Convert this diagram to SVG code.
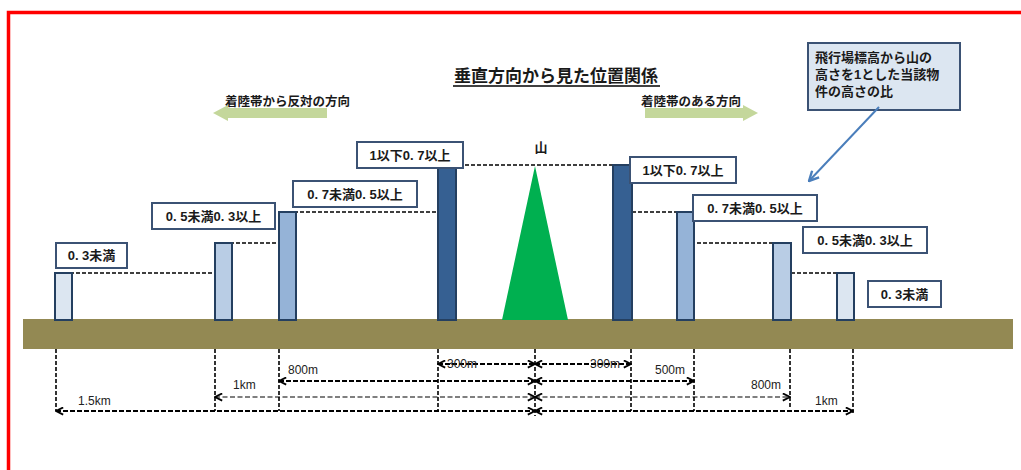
<svg xmlns="http://www.w3.org/2000/svg" width="1021" height="470" viewBox="0 0 1021 470">
<style>
.jp{font-family:"Liberation Sans","Noto Sans CJK JP",sans-serif;font-weight:bold;fill:#1a1a1a}
.lbl{font-size:13px;text-anchor:middle}
.box{fill:#ffffff;stroke:#3b5274;stroke-width:2}
.bar{stroke:#243f60;stroke-width:2}
.hd{stroke:#000;stroke-width:1.6;stroke-dasharray:4 2;fill:none}
.dim{stroke:#000;stroke-width:2;stroke-dasharray:5 2;fill:none}
.dimt{stroke:#000;stroke-width:1.2;stroke-dasharray:5 2.5;fill:none}
.vd{stroke:#000;stroke-width:1.6;stroke-dasharray:4 2;fill:none}
.dl{font-family:"Liberation Sans",sans-serif;font-size:12px;fill:#222}
</style>
<defs>
<marker id="ah" viewBox="0 0 10 10" refX="9" refY="5" markerWidth="9" markerHeight="9" markerUnits="userSpaceOnUse" orient="auto-start-reverse">
<path d="M1,1 L9,5 L1,9" fill="none" stroke="#000" stroke-width="2"/>
</marker>
<marker id="bh" viewBox="0 0 10 10" refX="9" refY="5" markerWidth="12" markerHeight="12" markerUnits="userSpaceOnUse" orient="auto">
<path d="M1,1 L9,5 L1,9" fill="none" stroke="#4a7ebb" stroke-width="2"/>
</marker>
</defs>
<rect x="0" y="0" width="1021" height="470" fill="#ffffff"/>
<rect x="8.5" y="12.5" width="1100" height="600" fill="none" stroke="#ff0000" stroke-width="3.5"/>

<g id="title">
<text class="jp" x="556" y="82" font-size="17" text-anchor="middle">垂直方向から見た位置関係</text>
<line x1="453" y1="86" x2="660" y2="86" stroke="#000" stroke-width="1.5"/>
</g>

<g id="dir-left">
<polygon points="213,113 228,105 228,108 327,108 327,118 228,118 228,121" fill="#c4d79b"/>
<text class="jp" x="225" y="106" font-size="12.5">着陸帯から反対の方向</text>
</g>
<g id="dir-right">
<polygon points="645,108 743,108 743,105 758,113 743,121 743,118 645,118" fill="#c4d79b"/>
<text class="jp" x="641" y="106" font-size="12.5">着陸帯のある方向</text>
</g>

<g id="callout">
<rect x="808" y="43" width="152" height="67" fill="#dce6f1" stroke="#3b5274" stroke-width="2"/>
<text class="jp" x="815" y="62" font-size="13">飛行場標高から山の</text>
<text class="jp" x="815" y="79" font-size="13">高さを1とした当該物</text>
<text class="jp" x="815" y="96" font-size="13">件の高さの比</text>
</g>

<g id="ground">
<rect x="23" y="319" width="990" height="30" fill="#938953"/>
</g>

<g id="mountain">
<polygon points="535,166 502,320 568,320" fill="#00b050"/>
<text class="jp" x="541" y="152" font-size="13" text-anchor="middle">山</text>
</g>

<g id="connectors">
<line class="hd" x1="64" y1="273" x2="215" y2="273"/>
<line class="hd" x1="224" y1="243" x2="279" y2="243"/>
<line class="hd" x1="288" y1="212" x2="438" y2="212"/>
<line class="hd" x1="447" y1="165" x2="613" y2="165"/>
<line class="hd" x1="632" y1="212" x2="677" y2="212"/>
<line class="hd" x1="697" y1="243" x2="773" y2="243"/>
<line class="hd" x1="791" y1="273" x2="837" y2="273"/>

<line class="vd" x1="56" y1="349" x2="56" y2="411"/>
<line class="vd" x1="215" y1="349" x2="215" y2="411"/>
<line class="vd" x1="279" y1="349" x2="279" y2="411"/>
<line class="vd" x1="438" y1="349" x2="438" y2="411"/>
<line class="vd" x1="535" y1="349" x2="535" y2="416"/>
<line class="vd" x1="631" y1="349" x2="631" y2="411"/>
<line class="vd" x1="694" y1="349" x2="694" y2="411"/>
<line class="vd" x1="790" y1="349" x2="790" y2="408"/>
<line class="vd" x1="853" y1="349" x2="853" y2="413"/>

<line class="dim" x1="438" y1="364" x2="535" y2="364" marker-start="url(#ah)" marker-end="url(#ah)"/>
<line class="dim" x1="535" y1="364" x2="631" y2="364" marker-start="url(#ah)" marker-end="url(#ah)"/>
<line class="dim" x1="279" y1="381" x2="535" y2="381" marker-start="url(#ah)" marker-end="url(#ah)"/>
<line class="dim" x1="535" y1="381" x2="694" y2="381" marker-start="url(#ah)" marker-end="url(#ah)"/>
<line class="dimt" x1="215" y1="397" x2="535" y2="397" marker-start="url(#ah)" marker-end="url(#ah)"/>
<line class="dimt" x1="535" y1="397" x2="790" y2="397" marker-start="url(#ah)" marker-end="url(#ah)"/>
<line class="dim" x1="56" y1="411" x2="535" y2="411" marker-start="url(#ah)" marker-end="url(#ah)"/>
<line class="dim" x1="535" y1="411" x2="853" y2="411" marker-start="url(#ah)" marker-end="url(#ah)"/>

<line x1="879" y1="107" x2="809" y2="181" stroke="#4a7ebb" stroke-width="2" marker-end="url(#bh)"/>
</g>

<g id="bar-l1"><rect class="bar" x="55" y="273" width="17" height="47" fill="#dce6f1"/></g>
<g id="bar-l2"><rect class="bar" x="215" y="243" width="17" height="77" fill="#b9cde5"/></g>
<g id="bar-l3"><rect class="bar" x="279" y="212" width="17" height="108" fill="#95b3d7"/></g>
<g id="bar-l4"><rect class="bar" x="438" y="165" width="18" height="155" fill="#366092"/></g>
<g id="bar-r1"><rect class="bar" x="613" y="165" width="19" height="155" fill="#366092"/></g>
<g id="bar-r2"><rect class="bar" x="677" y="212" width="17" height="108" fill="#95b3d7"/></g>
<g id="bar-r3"><rect class="bar" x="773" y="243" width="18" height="77" fill="#b9cde5"/></g>
<g id="bar-r4"><rect class="bar" x="837" y="273" width="17" height="47" fill="#dce6f1"/></g>

<g id="label-l1"><rect class="box" x="56" y="243" width="71" height="25"/><text class="jp lbl" x="91.5" y="260">0. 3未満</text></g>
<g id="label-l2"><rect class="box" x="152" y="203" width="123" height="26"/><text class="jp lbl" x="213.5" y="221">0. 5未満0. 3以上</text></g>
<g id="label-l3"><rect class="box" x="293" y="181" width="124" height="26"/><text class="jp lbl" x="355" y="199">0. 7未満0. 5以上</text></g>
<g id="label-l4"><rect class="box" x="357" y="142" width="106" height="26"/><text class="jp lbl" x="410" y="160">1以下0. 7以上</text></g>
<g id="label-r1"><rect class="box" x="630" y="157" width="106" height="26"/><text class="jp lbl" x="683" y="175">1以下0. 7以上</text></g>
<g id="label-r2"><rect class="box" x="693" y="195" width="124" height="26"/><text class="jp lbl" x="755" y="213">0. 7未満0. 5以上</text></g>
<g id="label-r3"><rect class="box" x="803" y="227" width="124" height="26"/><text class="jp lbl" x="865" y="245">0. 5未満0. 3以上</text></g>
<g id="label-r4"><rect class="box" x="868" y="281" width="73" height="26"/><text class="jp lbl" x="904.5" y="299">0. 3未満</text></g>

<g id="dim-labels">
<text class="dl" x="447" y="368">300m</text>
<text class="dl" x="590" y="368">300m</text>
<text class="dl" x="288" y="374">800m</text>
<text class="dl" x="655" y="374">500m</text>
<text class="dl" x="233" y="389">1km</text>
<text class="dl" x="751" y="389">800m</text>
<text class="dl" x="78" y="405">1.5km</text>
<text class="dl" x="815" y="405">1km</text>
</g>
</svg>
